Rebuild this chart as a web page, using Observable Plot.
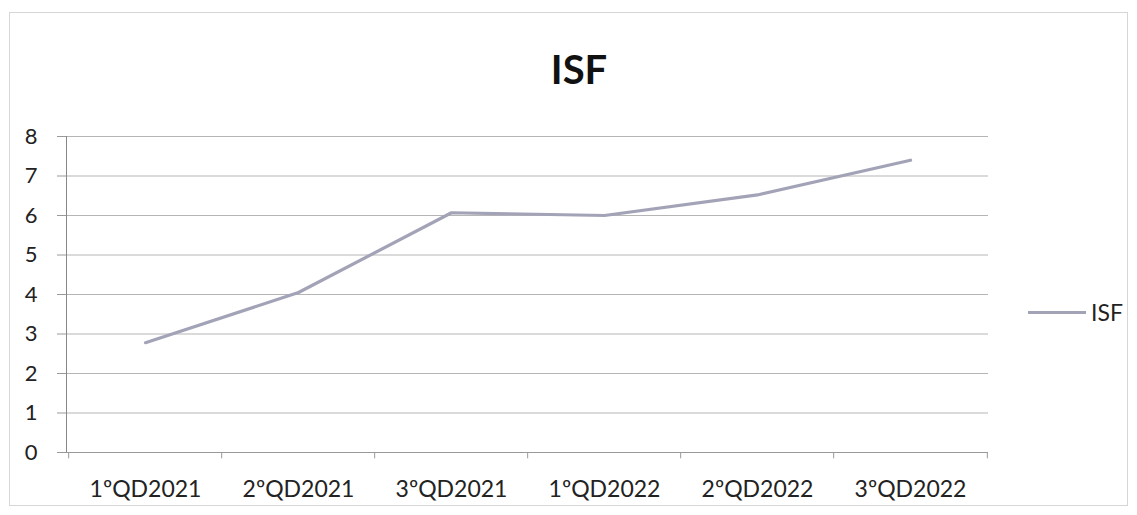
<!DOCTYPE html>
<html>
<head>
<meta charset="utf-8">
<script src="https://cdn.jsdelivr.net/npm/d3@7"></script>
<script src="https://cdn.jsdelivr.net/npm/@observablehq/plot@0.6"></script>
<style>
  body { margin: 0; background: #fff; font-family: Lato, "Open Sans", sans-serif; }
  #wrap { position: relative; width: 1137px; height: 515px; overflow: hidden; background: #fff; }
  #border { position: absolute; left: 9px; top: 12px; width: 1119px; height: 494px; border: 1px solid #d6d6d6; box-sizing: border-box; }
  #title { position: absolute; left: 0; width: 1158px; top: 49px; text-align: center; font-weight: bold; font-size: 40px; line-height: 1; color: #111; }
  #legline { position: absolute; left: 1028px; top: 311px; width: 58px; height: 3px; background: #a3a3b8; }
  #legtext { position: absolute; left: 1091px; top: 301px; font-size: 23px; line-height: 1; color: #222; }
  #chart { position: absolute; left: 0; top: 0; }
</style>
</head>
<body>
<div id="wrap">
  <div id="border"></div>
  <div id="chart"></div>
  <div id="title">ISF</div>
  <div id="legline"></div>
  <div id="legtext">ISF</div>
</div>
<script>
const categories = ["1ºQD2021", "2ºQD2021", "3ºQD2021", "1ºQD2022", "2ºQD2022", "3ºQD2022"];
const isfValues = [2.78, 4.05, 6.07, 6.0, 6.52, 7.4];
const yTicks = [0, 1, 2, 3, 4, 5, 6, 7, 8];
const seriesName = "ISF";

const data = categories.map((c, i) => ({ cat: c, value: isfValues[i], series: seriesName }));

const W = 1137, H = 515;
const mL = 66, mR = 149, mT = 136, mB = 63;
const step = (W - mL - mR) / categories.length;

const chart = Plot.plot({
  width: W,
  height: H,
  marginLeft: mL,
  marginRight: mR,
  marginTop: mT,
  marginBottom: mB,
  style: { fontFamily: "Lato, 'Open Sans', sans-serif", color: "#222", background: "transparent" },
  x: { type: "point", domain: categories, padding: 0.5, label: null },
  y: { domain: [0, 8], label: null },
  marks: [
    Plot.gridY(yTicks, { stroke: "#b5b5b5", strokeOpacity: 1, strokeWidth: 1 }),
    Plot.axisY(yTicks, { tickSize: 9, tickPadding: 20, fontSize: 22, stroke: "#999", label: null }),
    Plot.axisX({ tickSize: 0, tickPadding: 28, fontSize: 23, label: null }),
    Plot.frame({ anchor: "left", stroke: "#888" }),
    Plot.ruleY([0], { stroke: "#999" }),
    Plot.ruleX(categories, { x: d => d, y1: 0, y2: -0.16, dx: -step / 2, stroke: "#999" }),
    Plot.ruleX([categories[categories.length - 1]], { x: d => d, y1: 0, y2: -0.16, dx: step / 2, stroke: "#999" }),
    Plot.line(data, { x: "cat", y: "value", stroke: "#a3a3b8", strokeWidth: 3.2 })
  ]
});
document.getElementById("chart").appendChild(chart);
</script>
</body>
</html>
